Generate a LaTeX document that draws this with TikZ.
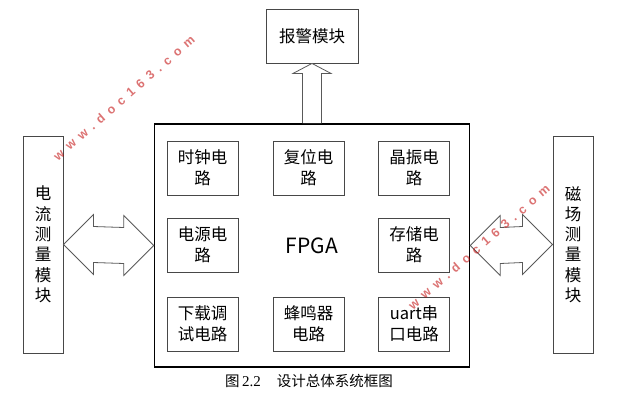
\documentclass[tikz,border=0pt]{standalone}
\usepackage{fontspec}
\setmainfont{Noto Sans CJK SC}
\newfontfamily\capfont{Liberation Serif}
\newfontfamily\wmfont[LetterSpace=48]{Liberation Sans}
\usetikzlibrary{calc}
\begin{document}
\begin{tikzpicture}[x=1pt,y=-1pt,
  box/.style={draw=black!72, line width=0.9pt, fill=white, inner sep=0pt, align=center,
    font=\fontsize{16.5}{21}\selectfont},
  inbox/.style={box, minimum width=71pt, minimum height=54pt},
  sidebox/.style={box, minimum width=40pt, minimum height=217pt, font=\fontsize{16.5}{20.3}\selectfont},
  arr/.style={draw=black!65, line width=0.8pt, fill=white, line join=miter},
  wm/.style={text=red!75!black, opacity=0.55, font=\wmfont\bfseries\fontsize{12.5}{13}\selectfont, rotate=41, inner sep=0pt}]
\useasboundingbox (0,0) rectangle (628,415);

\node[box, minimum width=92pt, minimum height=54pt] (A) at (312,36) {报警模块};
\node[draw=black, line width=1.6pt, fill=white, minimum width=315pt, minimum height=243pt,
  font=\fontsize{21}{24}\selectfont] (F) at (312,245.5) {FPGA};
\node[sidebox] (L) at (43,244.5) {电\\流\\测\\量\\模\\块};
\node[sidebox] (R) at (573,244.5) {磁\\场\\测\\量\\模\\块};

\node[inbox] (c1) at (202.5,168) {时钟电\\路};
\node[inbox] (c2) at (308.5,168) {复位电\\路};
\node[inbox] (c3) at (414,168) {晶振电\\路};
\node[inbox] (c4) at (202.5,245) {电源电\\路};
\node[inbox] (c6) at (414,245) {存储电\\路};
\node[inbox] (c7) at (202.5,324) {下载调\\试电路};
\node[inbox] (c8) at (308.5,324) {蜂鸣器\\电路};
\node[inbox] (c9) at (414,324) {uart串\\口电路};

% up arrow FPGA -> alarm
\filldraw[arr] ($(F.north)+(-9.5,0)$) -- ($(A.south)+(-9.5,10)$) -- ++(-9.5,0) -- (A.south)
  -- ++(19,10) -- ++(-9.5,0) -- ($(F.north)+(9.5,0)$);

% left double arrow
\filldraw[arr] (L.east) -- ++(30,-30) -- ++(0,12) -- ($(F.west)+(-30,-18)$) -- ++(0,-12)
  -- (F.west) -- ++(-30,30) -- ++(0,-12) -- ($(L.east)+(30,18)$) -- ++(0,12) -- cycle;
% right double arrow
\filldraw[arr] (F.east) -- ++(30,-30) -- ++(0,12) -- ($(R.west)+(-30,-18)$) -- ++(0,-12)
  -- (R.west) -- ++(-30,30) -- ++(0,-12) -- ($(F.east)+(30,18)$) -- ++(0,12) -- cycle;

% caption
\node[font=\fontsize{14.5}{16}\selectfont, inner sep=0pt] (cap) at (309,381)
  {图\,{\capfont\fontsize{15}{16}\selectfont 2.2}\hspace{16pt}设计总体系统框图};

% watermarks
\node[wm] (w1) at (124,98) {www.doc163.com};
\node[wm] (w2) at (479,247) {www.doc163.com};
\end{tikzpicture}
\end{document}
